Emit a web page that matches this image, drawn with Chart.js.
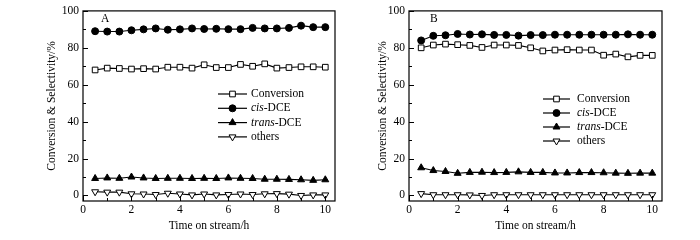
<!DOCTYPE html>
<html>
<head>
<meta charset="utf-8">
<script src="https://cdn.jsdelivr.net/npm/chart.js@4.4.1/dist/chart.umd.min.js"></script>
<style>
  body { margin: 0; background: #fff; }
  .wrap { display: flex; width: 700px; height: 240px; }
  canvas { display: block; }
</style>
</head>
<body>
<div class="wrap">
  <canvas id="chartA" width="350" height="240"></canvas>
  <canvas id="chartB" width="350" height="240"></canvas>
</div>
<script>
// time points (h)
const timeH = [0.5, 1, 1.5, 2, 2.5, 3, 3.5, 4, 4.5, 5, 5.5, 6, 6.5, 7, 7.5, 8, 8.5, 9, 9.5, 10];
const xTicks = [0, 2, 4, 6, 8, 10];
const xMinor = [1, 3, 5, 7, 9];
const yTicks = [0, 20, 40, 60, 80, 100];
const yMinor = [10, 30, 50, 70, 90];

// panel A
const convA   = [68, 69, 68.8, 68.5, 68.7, 68.5, 69.5, 69.5, 69, 70.8, 69.3, 69.3, 71, 70, 71.3, 69, 69.3, 69.7, 69.7, 69.5];
const cisA    = [89, 88.8, 88.8, 89.5, 90, 90.5, 89.8, 90, 90.5, 90.2, 90.3, 90.1, 90.1, 90.8, 90.5, 90.5, 90.8, 92, 91.2, 91.2];
const transA  = [9.2, 9.5, 9.3, 10, 9.5, 9.2, 9.3, 9.3, 9.2, 9.3, 9.2, 9.5, 9.3, 9.2, 8.8, 8.8, 8.7, 8.5, 8.2, 8.5];
const othersA = [2, 1.8, 1.8, 0.9, 0.8, 0.5, 1.2, 0.8, 0.3, 0.8, 0.3, 0.5, 0.8, 0.5, 0.9, 1, 0.7, 0, 0.3, 0.3];

// panel B
const convB   = [80, 81.5, 82, 81.7, 81.3, 80.2, 81.5, 81.5, 81.3, 80, 78.3, 78.8, 79, 78.8, 78.8, 76, 76.6, 75.1, 75.9, 75.9];
const cisB    = [84, 86.5, 86.8, 87.5, 87.2, 87.3, 87, 87, 86.6, 86.9, 86.9, 87.1, 87.1, 87.1, 87.1, 87.1, 87.1, 87.3, 87.1, 87.1];
const transB  = [15, 13.5, 13, 12, 12.5, 12.6, 12.4, 12.5, 12.8, 12.5, 12.5, 12.2, 12.2, 12.4, 12.4, 12.3, 12.1, 12, 12.1, 12.1];
const othersB = [1, 0.4, 0.4, 0.4, 0.3, 0, 0.4, 0.4, 0.4, 0.4, 0.4, 0.4, 0.4, 0.4, 0.4, 0.4, 0.4, 0.4, 0.4, 0.4];

const FONT = "'Liberation Serif', 'Times New Roman', serif";

// marker styles for each series (also used by the drawn legend)
const seriesStyles = [
  { label: ["", "Conversion"], pointStyle: "rect", radius: 4, fill: "#fff", rotation: 0 },
  { label: ["cis", "-DCE"], pointStyle: "circle", radius: 3.5, fill: "#000", rotation: 0 },
  { label: ["trans", "-DCE"], pointStyle: "triangle", radius: 4, fill: "#000", rotation: 0 },
  { label: ["", "others"], pointStyle: "triangle", radius: 4, fill: "#fff", rotation: 180 },
];

const toPoints = (ys) => timeH.map((x, i) => ({ x: x, y: ys[i] }));

// frame, inward ticks, panel letter and legend
const decorPlugin = {
  id: "decor",
  afterDraw(chart, args, opts) {
    const ctx = chart.ctx;
    const a = chart.chartArea;
    const xs = chart.scales.x, ys = chart.scales.y;
    ctx.save();
    ctx.strokeStyle = "#000";
    ctx.lineWidth = 1.2;
    ctx.strokeRect(a.left, a.top, a.right - a.left, a.bottom - a.top);
    ctx.lineWidth = 1;
    ctx.beginPath();
    xTicks.forEach((v) => { const p = Math.round(xs.getPixelForValue(v)) + 0.5; ctx.moveTo(p, a.bottom); ctx.lineTo(p, a.bottom - 5); });
    xMinor.forEach((v) => { const p = Math.round(xs.getPixelForValue(v)) + 0.5; ctx.moveTo(p, a.bottom); ctx.lineTo(p, a.bottom - 3); });
    yTicks.forEach((v) => { const p = Math.round(ys.getPixelForValue(v)) + 0.5; ctx.moveTo(a.left, p); ctx.lineTo(a.left + 5, p); });
    yMinor.forEach((v) => { const p = Math.round(ys.getPixelForValue(v)) + 0.5; ctx.moveTo(a.left, p); ctx.lineTo(a.left + 3, p); });
    ctx.stroke();

    // panel letter
    ctx.fillStyle = "#000";
    ctx.font = "11.5px " + FONT;
    ctx.textBaseline = "middle";
    ctx.fillText(opts.letter, opts.letterX, 19);

    // legend
    seriesStyles.forEach((s, i) => {
      const y = opts.legY + i * opts.legGap;
      ctx.strokeStyle = "#000";
      ctx.lineWidth = 1.2;
      ctx.beginPath();
      ctx.moveTo(opts.legX1, y);
      ctx.lineTo(opts.legX2, y);
      ctx.stroke();
      ctx.fillStyle = s.fill;
      ctx.lineWidth = 1;
      Chart.helpers.drawPoint(ctx, { pointStyle: s.pointStyle, radius: s.radius, rotation: s.rotation, borderWidth: 1 }, (opts.legX1 + opts.legX2) / 2, y);
      ctx.fillStyle = "#000";
      let tx = opts.textX;
      if (s.label[0]) {
        ctx.font = "italic 11.5px " + FONT;
        ctx.fillText(s.label[0], tx, y);
        tx += ctx.measureText(s.label[0]).width;
      }
      ctx.font = "11.5px " + FONT;
      ctx.fillText(s.label[1], tx, y);
    });
    ctx.restore();
  },
};

function makeChart(id, series, cfg) {
  const datasets = series.map((ys, i) => {
    const s = seriesStyles[i];
    return {
      data: toPoints(ys),
      borderColor: "#000",
      borderWidth: 1.1,
      pointStyle: s.pointStyle,
      pointRadius: s.radius,
      pointRotation: s.rotation,
      pointBackgroundColor: s.fill,
      pointBorderColor: "#000",
      pointBorderWidth: 1,
      tension: 0,
    };
  });
  return new Chart(document.getElementById(id), {
    type: "line",
    data: { datasets: datasets },
    plugins: [decorPlugin],
    options: {
      responsive: false,
      animation: false,
      layout: { padding: { left: cfg.padLeft, right: cfg.padRight, top: 10, bottom: 4 } },
      plugins: {
        legend: { display: false },
        tooltip: { enabled: false },
        decor: cfg.decor,
      },
      scales: {
        x: {
          type: "linear",
          min: 0,
          max: 10.4,
          afterBuildTicks: (s) => { s.ticks = xTicks.map((v) => ({ value: v })); },
          afterFit: (s) => { s.height = 35; },
          grid: { drawOnChartArea: false, drawTicks: false },
          border: { display: false },
          ticks: { color: "#000", font: { family: FONT, size: 11.5 }, padding: 2, maxRotation: 0 },
          title: { display: true, text: "Time on stream/h", color: "#000", font: { family: FONT, size: 11.5 }, padding: 3 },
        },
        y: {
          min: -3,
          max: 100,
          afterBuildTicks: (s) => { s.ticks = yTicks.map((v) => ({ value: v })); },
          afterFit: (s) => { s.width = cfg.yWidth; },
          grid: { drawOnChartArea: false, drawTicks: false },
          border: { display: false },
          ticks: { color: "#000", font: { family: FONT, size: 11.5 }, padding: 4 },
          title: { display: true, text: "Conversion & Selectivity/%", color: "#000", font: { family: FONT, size: 11.5 }, padding: 3 },
        },
      },
    },
  });
}

makeChart("chartA", [convA, cisA, transA, othersA], {
  padLeft: 42, yWidth: 41, padRight: 15,
  decor: { letter: "A", letterX: 101, legX1: 218, legX2: 247, textX: 251, legY: 94, legGap: 14.3 },
});

makeChart("chartB", [convB, cisB, transB, othersB], {
  padLeft: 23, yWidth: 36, padRight: 38,
  decor: { letter: "B", letterX: 80, legX1: 193, legX2: 220, textX: 227, legY: 99, legGap: 14 },
});
</script>
</body>
</html>
